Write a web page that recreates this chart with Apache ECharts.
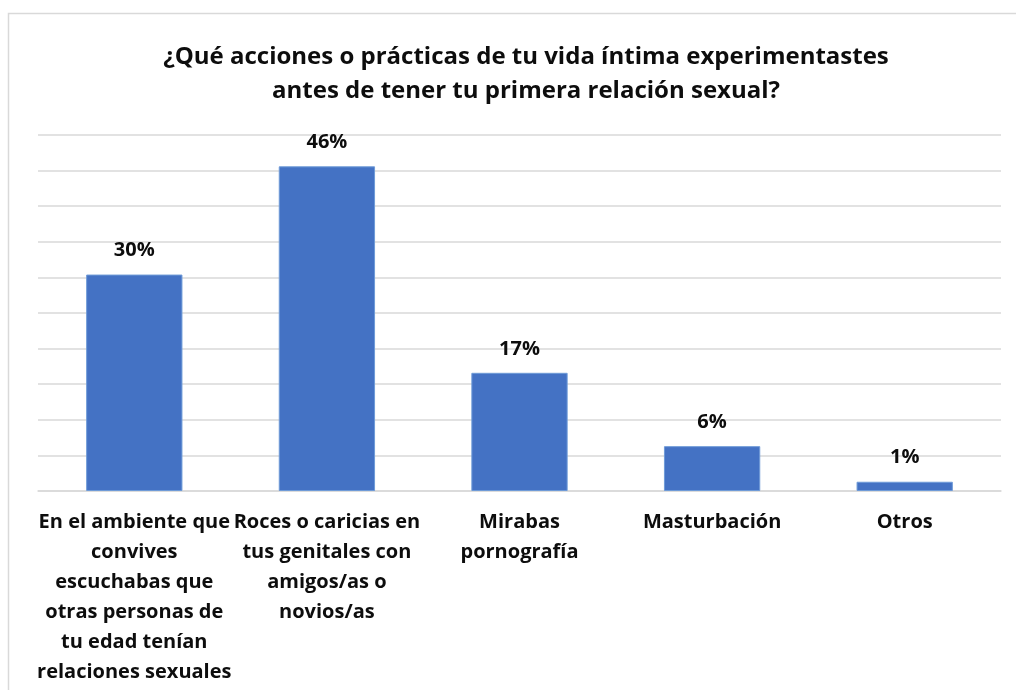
<!DOCTYPE html>
<html>
<head>
<meta charset="utf-8">
<script src="https://cdn.jsdelivr.net/npm/echarts@6/dist/echarts.min.js"></script>
<style>
  html, body { margin: 0; padding: 0; background: #fff; }
  #chart { width: 1016px; height: 690px; }
</style>
</head>
<body>
<div id="chart"></div>
<script>
var titleText = '¿Qué acciones o prácticas de tu vida íntima experimentastes\nantes de tener tu primera relación sexual?';
var categories = [
    'En el ambiente que\nconvives\nescuchabas que\notras personas de\ntu edad tenían\nrelaciones sexuales',
    'Roces o caricias en\ntus genitales con\namigos/as o\nnovios/as',
    'Mirabas\npornografía',
    'Masturbación',
    'Otros'
];
var values = [30.4, 45.6, 16.6, 6.3, 1.3];

var chart = echarts.init(document.getElementById('chart'));
var font = '"Open Sans", Calibri, sans-serif';
var option = {
    backgroundColor: '#fff',
    animation: false,
    title: {
        text: titleText,
        left: 521,
        top: 35,
        textAlign: 'center',
        textStyle: {
            fontFamily: font,
            fontWeight: 'bold',
            fontSize: 24,
            lineHeight: 34,
            color: '#0d0d0d'
        }
    },
    graphic: [{
        type: 'rect',
        shape: { x: 8.5, y: 13.5, width: 1200, height: 1000 },
        style: { fill: 'none', stroke: '#d9d9d9', lineWidth: 1.5 },
        silent: true
    }],
    grid: { left: 38, right: 15, top: 135, bottom: 199 },
    xAxis: {
        type: 'category',
        data: categories,
        axisLine: { lineStyle: { color: '#d9d9d9', width: 1.5 } },
        axisTick: { show: false },
        axisLabel: {
            interval: 0,
            margin: 16,
            fontFamily: font,
            fontWeight: 'bold',
            fontSize: 20,
            lineHeight: 30,
            color: '#0d0d0d'
        }
    },
    yAxis: {
        type: 'value',
        min: 0,
        max: 50,
        interval: 5,
        axisLabel: { show: false },
        axisLine: { show: false },
        axisTick: { show: false },
        splitLine: { lineStyle: { color: '#d9d9d9', width: 1.5 } }
    },
    series: [{
        type: 'bar',
        data: values,
        barWidth: '50%',
        itemStyle: {
            color: '#4472c4',
            borderColor: '#6f9bd8',
            borderWidth: 1
        },
        label: {
            show: true,
            position: 'top',
            distance: 14,
            fontFamily: font,
            fontWeight: 'bold',
            fontSize: 20,
            color: '#0d0d0d',
            formatter: function (p) {
                return Math.round(p.value) + '%';
            }
        }
    }]
};
chart.setOption(option);
</script>
</body>
</html>
